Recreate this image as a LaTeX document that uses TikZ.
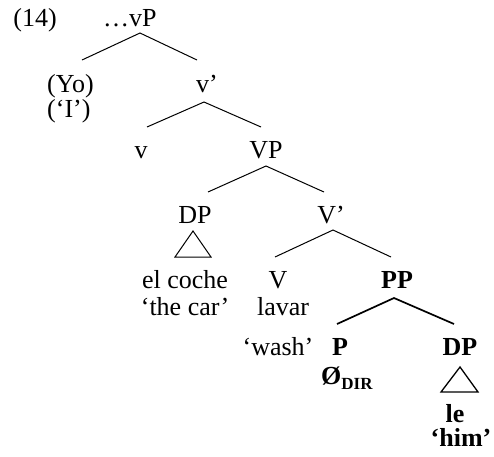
\documentclass[tikz,border=0pt]{standalone}
\usepackage{fontspec}
\setmainfont{Liberation Serif}
\begin{document}
\begin{tikzpicture}[x=1pt,y=-1pt,
  lab/.style={inner sep=0pt,anchor=base,font=\fontsize{26}{30}\selectfont},
  labw/.style={lab,anchor=base west},
  blab/.style={lab,font=\fontsize{26}{30}\selectfont\bfseries},
  branch/.style={line width=1pt},
  boldbranch/.style={line width=1.7pt},
  tri/.style={line width=1pt},
  btri/.style={line width=1.3pt},
]
\useasboundingbox (0,0) rectangle (494,456);
% texts
\node[lab] (ex) at (35,26) {(14)};
\node[labw] (vP) at (103,26) {…vP};
\node[labw] (Yo) at (47,92) {(Yo)};
\node[labw] (I) at (47,117) {(‘I’)};
\node[labw] (vbar) at (196,92) {v’};
\node[lab] (v) at (141,158) {v};
\node[lab] (VP) at (266,158) {VP};
\node[lab] (DP1) at (195,223) {DP};
\node[lab] (Vbar) at (331,223) {V’};
\node[lab] (coche) at (185,288) {el coche};
\node[lab] (car) at (185,315) {‘the car’};
\node[lab] (V) at (278,288) {V};
\node[lab] (lavar) at (283,315) {lavar};
\node[lab] (wash) at (278,355) {‘wash’};
\node[blab] (PP) at (397,288) {PP};
\node[blab] (P) at (340,355) {P};
\node[blab,anchor=base west] (null) at (321,384) {Ø\raisebox{-0.2em}{\fontsize{17}{17}\selectfont DIR}};
\node[blab] (DP2) at (460,355) {DP};
\node[blab] (le) at (455,422) {le};
\node[blab] (him) at (461,446) {‘him’};
% branch points
\coordinate (a1) at (140,33);  \coordinate (l1) at (82,60);  \coordinate (r1) at (197,60);
\coordinate (a2) at (204,102); \coordinate (l2) at (147,127); \coordinate (r2) at (261,127);
\coordinate (a3) at (266,166); \coordinate (l3) at (208,192); \coordinate (r3) at (324,192);
\coordinate (a4) at (333,230); \coordinate (l4) at (275,257); \coordinate (r4) at (391,257);
\coordinate (a5) at (394,298); \coordinate (l5) at (337,324); \coordinate (r5) at (454,324);
\coordinate (t1) at (193,231); \coordinate (t1l) at (175,257); \coordinate (t1r) at (211,257);
\coordinate (t2) at (460,367); \coordinate (t2l) at (441,392); \coordinate (t2r) at (478,392);
\draw[branch] (l1) -- (a1) -- (r1);
\draw[branch] (l2) -- (a2) -- (r2);
\draw[branch] (l3) -- (a3) -- (r3);
\draw[branch] (l4) -- (a4) -- (r4);
\draw[boldbranch] (l5) -- (a5) -- (r5);
\draw[tri] (t1) -- (t1l) -- (t1r) -- cycle;
\draw[btri] (t2) -- (t2l) -- (t2r) -- cycle;
\end{tikzpicture}
\end{document}
